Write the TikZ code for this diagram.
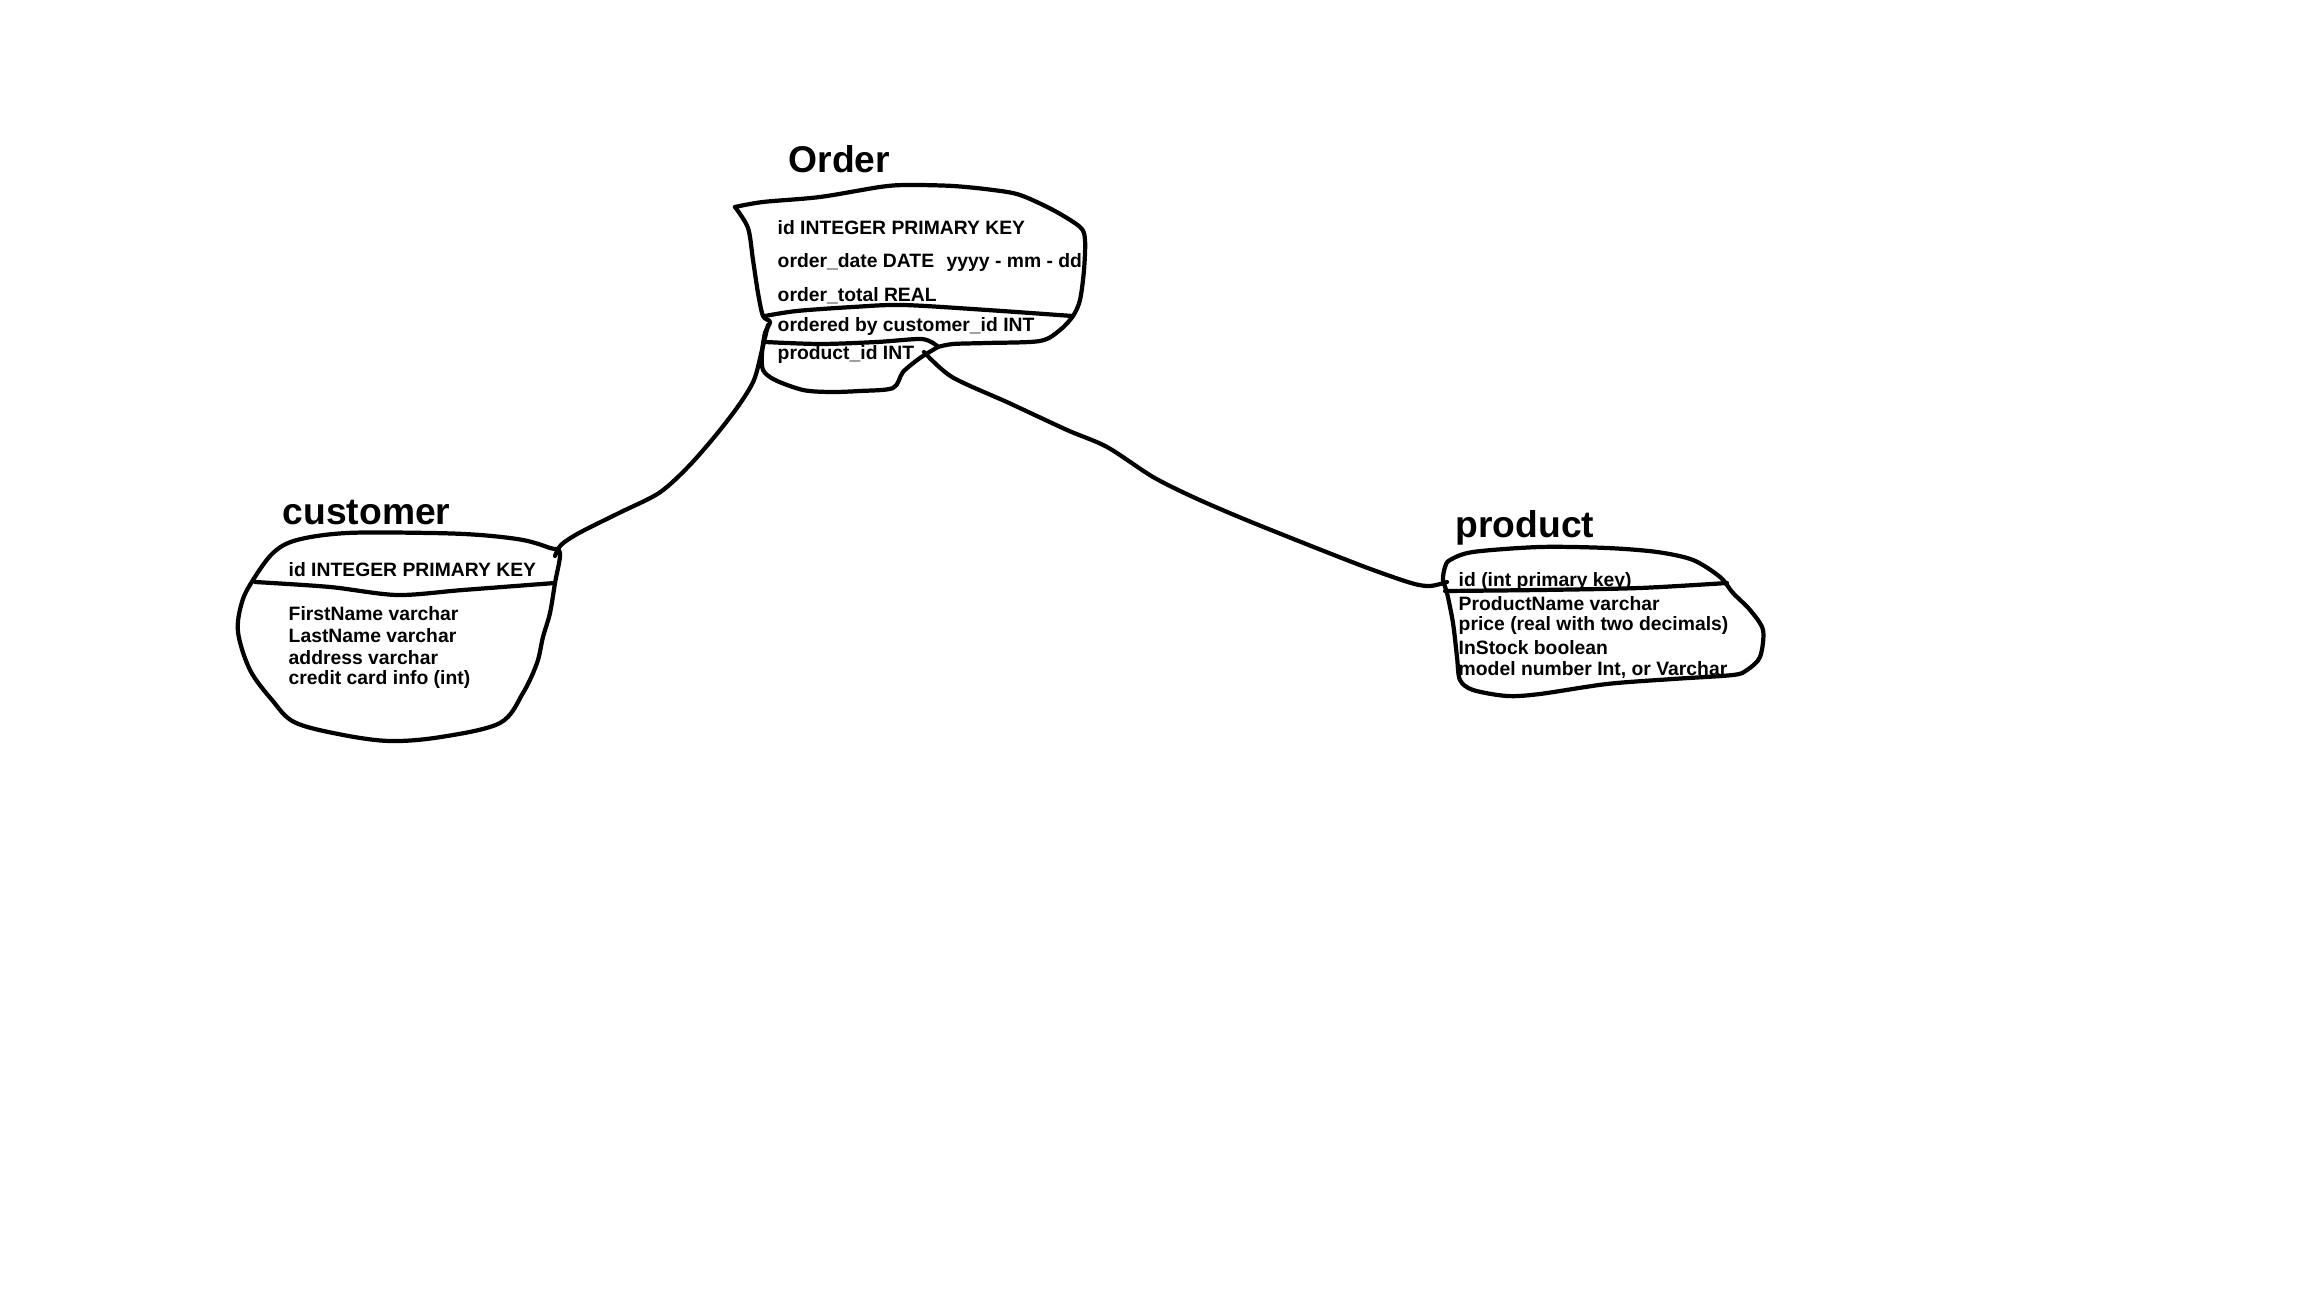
\documentclass[tikz,border=0pt]{standalone}
\usepackage{fontspec}
\setmainfont{Liberation Sans}
\begin{document}
\begin{tikzpicture}[x=0.1mm,y=-0.1mm,
  ink/.style={line width=1.2pt,line join=round,line cap=round},
  field/.style={anchor=west,inner sep=0pt,font=\fontsize{5.5}{6.6}\selectfont\bfseries},
  title/.style={anchor=west,inner sep=0pt,font=\fontsize{10.6}{12}\selectfont\bfseries}]
\fill[white] (0,0) rectangle (2304,1296);
\useasboundingbox (0,0) rectangle (2304,1296);

% ---------------- Order ----------------
\node[title] (ordT) at (788,159) {Order};
\draw[ink] plot[smooth,tension=0.5] coordinates {(735,207) (763,202) (820,197) (880,187) (907,185) (953,186) (993,190) (1020,195) (1053,210) (1080,227) (1085,240) (1084,270) (1080,300) (1073,316) (1060,330) (1040,341) (987,343) (953,344) (938,347)};
\draw[ink] plot[smooth,tension=0.5] coordinates {(938,347) (920,358) (903,372) (893,388) (860,391) (830,392) (803,390) (775,380) (763,370) (762,353) (765,333) (770,322) (763,316) (758,293) (753,260) (748,228) (735,207)};
\draw[ink] plot[smooth,tension=0.5] coordinates {(765,316) (797,311) (853,307) (903,305) (987,310) (1072,316)};
\draw[ink] plot[smooth,tension=0.5] coordinates {(765,342) (820,344) (877,342) (920,339) (933,343) (938,347)};
\node[field] (o1) at (777,228) {id INTEGER PRIMARY KEY};
\node[field] (o2) at (777,262) {order\_date DATE};
\node[field] (o2b) at (946,263) {yyyy - mm - dd};
\node[field] (o3) at (777,296) {order\_total REAL};
\node[field] (o4) at (777,327) {ordered by customer\_id INT};
\node[field] (o5) at (777,355) {product\_id INT};

% ---------------- customer ----------------
\node[title] (cusT) at (282,513) {customer};
\draw[ink] plot[smooth cycle,tension=0.55] coordinates {(253,580) (273,553) (297,540) (347,533) (430,533) (480,535) (523,540) (550,548) (560,553) (555,583) (550,613) (543,637) (537,663) (523,693) (500,723) (441,737) (389,741) (338,734) (294,722) (272,700) (250,670) (238,632) (242,602)};
\draw[ink] plot[smooth,tension=0.5] coordinates {(255,582) (330,587) (397,595) (463,590) (555,583)};
\node[field] (c1) at (288,570) {id INTEGER PRIMARY KEY};
\node[field] (c2) at (288,614) {FirstName varchar};
\node[field] (c3) at (288,636) {LastName varchar};
\node[field] (c4) at (288,658) {address varchar};
\node[field] (c5) at (288,680) {credit card info (int)};

% ---------------- product ----------------
\node[title] (proT) at (1455,528) {product};
\draw[ink] plot[smooth cycle,tension=0.5] coordinates {(1450,560) (1473,552) (1540,547) (1607,548) (1657,552) (1693,560) (1720,577) (1733,593) (1750,610) (1763,630) (1760,657) (1747,670) (1733,675) (1673,679) (1607,684) (1540,694) (1507,696) (1473,690) (1460,680) (1457,657) (1453,623) (1447,593) (1443,580) (1445,567)};
\draw[ink] plot[smooth,tension=0.5] coordinates {(1445,591) (1540,590) (1640,588) (1727,583)};
\node[field] (p1) at (1458,582) {id (int primary key)};
\node[field] (p2) at (1458,604) {ProductName varchar};
\node[field] (p3) at (1458,626) {price (real with two decimals)};
\node[field] (p4) at (1458,648) {InStock boolean};
\node[field] (p5) at (1458,670) {model number Int, or Varchar};

% ---------------- connectors ----------------
\coordinate (ordC) at (768,325);
\coordinate (cusC) at (555,556);
\coordinate (ordP) at (924,352);
\coordinate (proC) at (1447,582);
\draw[ink] plot[smooth,tension=0.5] coordinates {(ordC) (762,350) (754,380) (739,405) (716,435) (688,467) (659,493) (619,513) (579,533) (561,545) (cusC)};
\draw[ink] plot[smooth,tension=0.5] coordinates {(ordP) (952,377) (1009,403) (1067,430) (1107,447) (1153,477) (1193,497) (1239,517) (1296,540) (1365,567) (1411,583) (1430,586) (proC)};
\end{tikzpicture}
\end{document}
